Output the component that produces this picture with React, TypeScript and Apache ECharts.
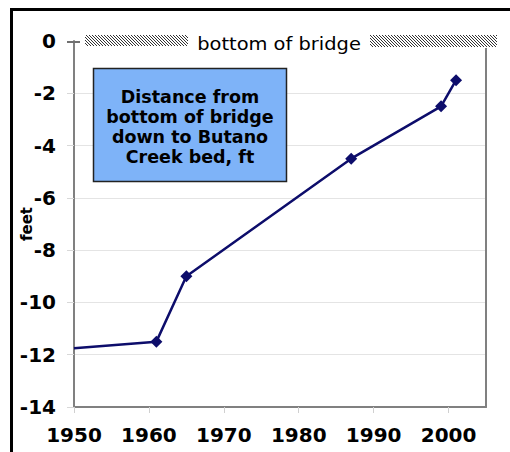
import React, { useEffect, useRef } from "react";
import * as echarts from "echarts";

const years = [1950, 1961, 1965, 1987, 1999, 2001];
const depths = [-11.75, -11.5, -9, -4.5, -2.5, -1.5];
const markerShown = [false, true, true, true, true, true];
const xTicks = { min: 1950, max: 2005, interval: 10 };
const yTicks = { min: -14, max: 0, interval: 2 };
const boxLines = ["Distance from", "bottom of bridge", "down to Butano", "Creek bed, ft"];
const bridgeLabel = "bottom of bridge";
const yName = "feet";

function hatch(x0: number, x1: number, y0: number, y1: number, step: number) {
  const out: any[] = [];
  // lines x = c + y, clipped to the rectangle
  for (let c = x0 - y1; c <= x1 - y0; c += step) {
    const ya = Math.max(y0, x0 - c);
    const yb = Math.min(y1, x1 - c);
    if (yb <= ya) continue;
    out.push({
      type: "line",
      z: 102,
      silent: true,
      shape: { x1: c + ya, y1: ya, x2: c + yb, y2: yb },
      style: { stroke: "#333", lineWidth: 1 },
    });
  }
  return out;
}

export default function App() {
  const ref = useRef<HTMLDivElement>(null);
  useEffect(() => {
    if (!ref.current) return;
    const chart = echarts.init(ref.current, null, { renderer: "svg" });
    const font = "'DejaVu Sans', Verdana, sans-serif";
    const data = years.map((y, i) => ({
      value: [y, depths[i]],
      symbol: markerShown[i] ? "diamond" : "none",
    }));
    chart.setOption({
      animation: false,
      backgroundColor: "#ffffff",
      grid: { left: 74, right: 24, top: 41, bottom: 45, containLabel: false, outerBoundsMode: "none" },
      xAxis: {
        type: "value",
        min: xTicks.min,
        max: xTicks.max,
        interval: xTicks.interval,
        axisLine: { show: true, onZero: false, lineStyle: { color: "#808080", width: 2 } },
        axisTick: { show: true, length: 6, lineStyle: { color: "#d0d0d0" } },
        splitLine: { show: false },
        axisLabel: {
          showMaxLabel: false,
          hideOverlap: false,
          margin: 18,
          color: "#000",
          fontFamily: font,
          fontWeight: "bold",
          fontSize: 20,
          formatter: (v: number) => String(v),
        },
      },
      yAxis: [
        {
          type: "value",
          min: yTicks.min,
          max: yTicks.max,
          interval: yTicks.interval,
          name: yName,
          nameLocation: "middle",
          nameRotate: 90,
          nameGap: 40,
          nameMoveOverlap: false,
          nameTextStyle: { color: "#000", fontFamily: font, fontWeight: "bold", fontSize: 15 },
          axisLine: { show: true, onZero: false, lineStyle: { color: "#808080", width: 2 } },
          axisTick: { show: true, length: 7, lineStyle: { color: "#d8d8d8" } },
          splitLine: { show: true, lineStyle: { color: "#e4e4e4", width: 1 } },
          axisLabel: {
            margin: 18,
            color: "#000",
            fontFamily: font,
            fontWeight: "bold",
            fontSize: 20,
            formatter: (v: number) => String(v),
          },
        },
        {
          type: "value",
          position: "right",
          min: yTicks.min,
          max: yTicks.max,
          interval: yTicks.interval,
          axisLine: { show: true, onZero: false, lineStyle: { color: "#808080", width: 2 } },
          axisTick: { show: false },
          axisLabel: { show: false },
          splitLine: { show: false },
        },
      ],
      series: [
        {
          type: "line",
          data,
          symbolSize: 12,
          showAllSymbol: true,
          lineStyle: { color: "#0d0d6b", width: 2.5 },
          itemStyle: { color: "#0d0d6b" },
          z: 5,
        },
      ],
      graphic: [
        {
          type: "rect",
          z: 100,
          silent: true,
          shape: { x: 11.5, y: 9.5, width: 520, height: 460 },
          style: { fill: "none", stroke: "#000", lineWidth: 3 },
        },
        {
          type: "rect",
          z: 100,
          silent: true,
          shape: { x: 76, y: 34, width: 430, height: 14 },
          style: { fill: "#fff" },
        },
        {
          type: "line",
          z: 101,
          silent: true,
          shape: { x1: 67, y1: 42, x2: 80, y2: 42 },
          style: { stroke: "#707070", lineWidth: 2 },
        },
        ...hatch(85, 188, 35, 46, 3),
        ...hatch(370, 497, 35, 47, 3),
        {
          type: "text",
          z: 103,
          silent: true,
          x: 279,
          y: 44,
          scaleX: 1.08,
          style: {
            text: bridgeLabel,
            fill: "#000",
            font: `18px ${font}`,
            align: "center",
            verticalAlign: "middle",
          },
        },
        {
          type: "rect",
          z: 100,
          silent: true,
          shape: { x: 93.5, y: 68.5, width: 193, height: 113 },
          style: { fill: "#7eb3f8", stroke: "#222", lineWidth: 1.5 },
        },
        {
          type: "text",
          z: 101,
          silent: true,
          x: 190,
          y: 127,
          style: {
            text: boxLines.join("\n"),
            fill: "#000",
            font: `bold 17.5px ${font}`,
            lineHeight: 20,
            align: "center",
            verticalAlign: "middle",
          },
        },
      ],
    });
    return () => chart.dispose();
  }, []);
  return (
    <div
      ref={ref}
      style={{ position: "fixed", left: 0, top: 0, width: 510, height: 452 }}
    />
  );
}
